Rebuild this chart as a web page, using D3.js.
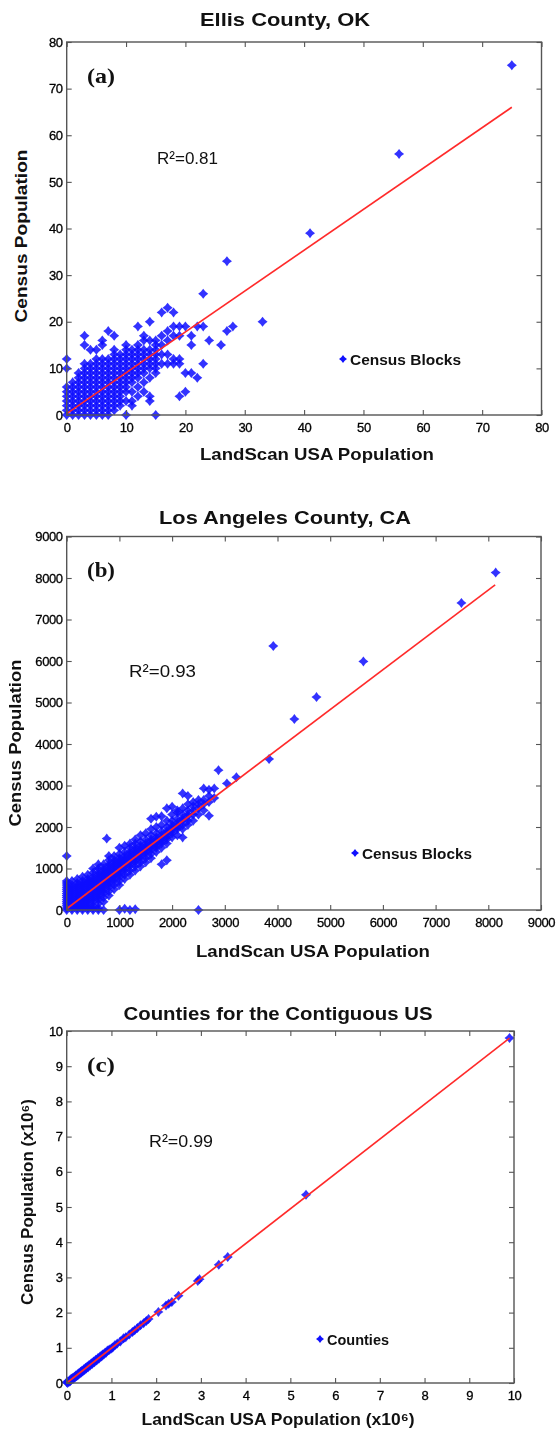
<!DOCTYPE html>
<html><head><meta charset="utf-8">
<script src="https://cdn.jsdelivr.net/npm/d3@7"></script>
<style>
html,body{margin:0;padding:0;background:#fff;}
svg{display:block;font-family:"Liberation Sans",Arial,sans-serif;}
</style></head>
<body>
<script>
// ---------- DATA ----------
// Panel (a): Ellis County, OK  -- [LandScan x, list of Census y]
const aColumns = [
 [0,[0,1,2,3,4,5,6,10,12]],
 [1,[0,1,2,3,4,5,6,7]],
 [2,[0,1,2,3,4,5,6,7,8,9]],
 [3,[0,1,2,3,4,5,6,7,8,9,10,11,15,17]],
 [4,[0,1,2,3,4,5,6,7,8,9,10,11,14]],
 [5,[0,1,2,3,4,5,6,7,8,9,10,11,12,14]],
 [6,[0,1,2,3,4,5,6,7,8,9,10,11,12,15,16]],
 [7,[0,1,2,3,4,5,6,7,8,9,10,11,12,18]],
 [8,[1,2,3,4,5,6,7,8,9,10,11,12,13,14,17]],
 [9,[2,3,4,5,6,7,8,9,10,11,12,13]],
 [10,[0,3,5,6,7,8,9,10,11,12,13,14,15]],
 [11,[2,3,5,7,8,9,10,11,12,13,14]],
 [12,[4,6,8,9,10,11,12,13,14,15,19]],
 [13,[5,7,9,10,11,12,13,14,16,17]],
 [14,[3,4,8,10,11,12,13,14,16,20]],
 [15,[0,9,10,11,12,13,14,15,16]],
 [16,[11,13,15,17,22]],
 [17,[11,13,16,18,23]],
 [18,[11,12,17,19,22]],
 [19,[4,11,12,17,19]],
 [20,[5,9,19]],
 [21,[9,15,17]],
 [22,[8,19]],
 [23,[11,19,26]],
 [24,[16]],
 [26,[15]],
 [27,[18,33]],
 [28,[19]],
 [33,[20]],
 [41,[39]],
 [56,[56]],
 [75,[75]]
];
const aFit = [[0,0.3],[75,66]];
const aTicks = [0,10,20,30,40,50,60,70,80];

// Panel (b): Los Angeles County, CA
const bColumns = [
 [0,[0,50,100,150,200,250,300,350,400,450,500,550,600,650,700,1300]],
 [100,[0,50,100,150,200,250,300,350,400,450,500,550,600,700]],
 [200,[0,50,100,150,200,250,300,350,400,450,500,550,600,650,750]],
 [300,[0,50,100,150,200,250,300,350,400,450,500,550,600,650,700,800]],
 [400,[0,50,100,150,200,250,300,350,400,450,500,550,600,650,700,750,850]],
 [500,[0,50,100,200,250,300,350,400,450,500,550,600,650,700,750,800,900,1000]],
 [600,[0,50,150,250,300,350,400,450,500,550,600,650,700,750,800,850,900,1000,1100]],
 [700,[0,200,300,400,450,500,550,600,650,700,750,800,850,900,950,1000,1100]],
 [760,[1720]],
 [800,[350,450,550,600,650,700,750,800,850,900,950,1000,1050,1100,1200,1300]],
 [900,[500,600,700,750,800,850,900,950,1000,1050,1100,1150,1200,1300]],
 [1000,[0,600,700,800,850,900,950,1000,1050,1100,1150,1200,1250,1350,1500]],
 [1100,[30,750,850,950,1000,1050,1100,1150,1200,1250,1300,1400,1550]],
 [1200,[0,850,950,1050,1100,1150,1200,1250,1300,1350,1400,1500,1600]],
 [1300,[20,950,1050,1150,1200,1250,1300,1350,1400,1450,1500,1600,1700]],
 [1400,[1050,1150,1250,1300,1350,1400,1450,1500,1550,1650,1800]],
 [1500,[1150,1250,1350,1400,1450,1500,1550,1600,1700,1850]],
 [1600,[1250,1350,1450,1500,1550,1600,1650,1700,1800,1950,2200]],
 [1700,[1400,1500,1550,1600,1650,1700,1750,1850,2000,2250]],
 [1800,[1100,1500,1600,1650,1700,1750,1800,1900,2050,2260]],
 [1900,[1200,1600,1700,1750,1800,1850,1900,2000,2150,2450]],
 [2000,[1750,1850,1900,1950,2000,2050,2150,2300,2490]],
 [2100,[1800,1950,2000,2050,2100,2200,2350,2400]],
 [2200,[1750,1950,2050,2150,2200,2300,2450,2810]],
 [2300,[2050,2150,2250,2300,2400,2550,2750]],
 [2400,[2150,2300,2400,2500,2600]],
 [2500,[0,2300,2450,2550,2650]],
 [2600,[2400,2550,2650,2930]],
 [2700,[2270,2600,2750,2900]],
 [2800,[2700,2930]],
 [2880,[3370]],
 [3040,[3050]],
 [3220,[3200]],
 [3840,[3640]],
 [3920,[6360]],
 [4320,[4600]],
 [4740,[5130]],
 [5630,[5990]],
 [7490,[7400]],
 [8140,[8130]]
];
const bFit = [[0,30],[8130,7835]];
const bTicks = [0,1000,2000,3000,4000,5000,6000,7000,8000,9000];

// Panel (c): Counties for the Contiguous US (millions)
const cX = [0.00,0.02,0.03,0.05,0.07,0.08,0.10,0.11,0.13,0.15,0.17,0.18,0.20,0.22,0.24,0.25,0.27,0.29,0.31,0.32,0.34,0.36,0.38,0.40,0.42,0.44,0.46,0.48,0.50,0.52,0.55,0.57,0.60,0.62,0.65,0.67,0.70,0.72,0.75,0.78,0.80,0.83,0.86,0.88,0.91,0.94,0.96,1.00,1.03,1.08,1.13,1.20,1.27,1.32,1.40,1.47,1.52,1.58,1.65,1.72,1.78,1.83,2.05,2.22,2.28,2.35,2.50,2.93,2.97,3.40,3.60,5.35,9.90];
const cY = [0.02,0.00,0.05,0.03,0.08,0.05,0.12,0.09,0.14,0.12,0.18,0.15,0.21,0.19,0.25,0.22,0.28,0.26,0.32,0.29,0.35,0.33,0.39,0.37,0.43,0.41,0.47,0.45,0.51,0.49,0.56,0.54,0.61,0.59,0.66,0.64,0.71,0.69,0.76,0.75,0.81,0.81,0.87,0.86,0.92,0.93,0.95,0.98,1.01,1.08,1.12,1.18,1.27,1.30,1.38,1.45,1.50,1.56,1.64,1.70,1.76,1.82,2.02,2.20,2.25,2.30,2.48,2.90,2.95,3.36,3.58,5.35,9.80];
const cFit = [[0,0],[9.9,9.8]];
const cTicks = [0,1,2,3,4,5,6,7,8,9,10];

// ---------- DRAW ----------
const W = 557, H = 1429;
const svg = d3.select("body").append("svg").attr("width", W).attr("height", H);
svg.append("rect").attr("width", W).attr("height", H).attr("fill", "#fff");
const defs = svg.append("defs");
defs.append("filter").attr("id","soft").attr("x","-10%").attr("y","-10%").attr("width","120%").attr("height","120%")
  .append("feGaussianBlur").attr("stdDeviation", 0.55);

function star(r, w) {
  return `M0,${-r}L${w},${-w}L${r},0L${w},${w}L0,${r}L${-w},${w}L${-r},0L${-w},${-w}Z`;
}
const BLUE = "#1010ff";

function panel(cfg) {
  const x = d3.scaleLinear().domain(cfg.dom).range([cfg.x0, cfg.x1]);
  const y = d3.scaleLinear().domain(cfg.dom).range([cfg.y0, cfg.y1]);
  const g = svg.append("g");

  // marks
  const mg = g.append("g").attr("filter", "url(#soft)");
  mg.selectAll("path.pt").data(cfg.points).join("path")
    .attr("class","pt")
    .attr("d", star(5, 2.2))
    .attr("transform", d => `translate(${x(d[0])},${y(d[1])})`)
    .attr("fill", BLUE).attr("fill-opacity", 0.85);
  mg.append("path").datum(cfg.fit)
    .attr("d", d3.line().x(d => x(d[0])).y(d => y(d[1])))
    .attr("stroke", "#ff2a2a").attr("stroke-width", 1.6).attr("fill", "none");

  // box and ticks
  const axCol = "#555";
  const fmt = cfg.fmt || (d => d);
  const ax = [
    [d3.axisBottom(x).tickValues(cfg.ticks).tickFormat(fmt), `translate(0,${cfg.y0})`, true],
    [d3.axisTop(x).tickValues(cfg.ticks).tickFormat(""), `translate(0,${cfg.y1})`, false],
    [d3.axisLeft(y).tickValues(cfg.ticks).tickFormat(fmt), `translate(${cfg.x0},0)`, true],
    [d3.axisRight(y).tickValues(cfg.ticks).tickFormat(""), `translate(${cfg.x1},0)`, false]
  ];
  ax.forEach(([a, tr, lab], i) => {
    a.tickSizeInner(-5).tickSizeOuter(0).tickPadding(i === 0 ? 8 : 4);
    const ag = g.append("g").attr("transform", tr).call(a);
    ag.select(".domain").remove();
    ag.selectAll(".tick line").attr("stroke", axCol).attr("stroke-width", 1.1);
    ag.selectAll(".tick text").attr("fill", "#000").attr("font-size", 13)
      .attr("stroke", "#000").attr("stroke-width", 0.3)
      .attr("font-family", "'Liberation Sans',Arial,sans-serif").attr("letter-spacing", -0.4);
  });
  g.append("rect").attr("x", cfg.x0).attr("y", cfg.y1)
    .attr("width", cfg.x1 - cfg.x0).attr("height", cfg.y0 - cfg.y1)
    .attr("fill", "none").attr("stroke", axCol).attr("stroke-width", 1.4);

  // texts
  g.append("text").attr("x", cfg.title[1]).attr("y", cfg.title[2])
    .attr("text-anchor", "middle").attr("font-weight", "bold").attr("font-size", 19)
    .attr("textLength", cfg.title[3]).attr("lengthAdjust", "spacingAndGlyphs")
    .attr("fill", "#111").text(cfg.title[0]);
  g.append("text").attr("x", cfg.xlab[1]).attr("y", cfg.xlab[2])
    .attr("text-anchor", "middle").attr("font-weight", "bold").attr("font-size", 17)
    .attr("textLength", cfg.xlab[3]).attr("lengthAdjust", "spacingAndGlyphs")
    .attr("fill", "#111").text(cfg.xlab[0]);
  g.append("text").attr("transform", `translate(${cfg.ylab[1]},${cfg.ylab[2]}) rotate(-90)`)
    .attr("text-anchor", "middle").attr("font-weight", "bold").attr("font-size", 17)
    .attr("textLength", cfg.ylab[3]).attr("lengthAdjust", "spacingAndGlyphs")
    .attr("fill", "#111").text(cfg.ylab[0]);
  g.append("text").attr("x", cfg.tag[1]).attr("y", cfg.tag[2])
    .attr("font-family", "'Liberation Serif','Times New Roman',serif").attr("font-weight", "bold")
    .attr("font-size", 22).attr("textLength", 28).attr("lengthAdjust", "spacingAndGlyphs")
    .attr("fill", "#111").text(cfg.tag[0]);
  g.append("text").attr("x", cfg.r2[1]).attr("y", cfg.r2[2])
    .attr("font-size", 17).attr("fill", "#111")
    .attr("textLength", cfg.r2[3]).attr("lengthAdjust", "spacingAndGlyphs").text(cfg.r2[0]);
  // legend
  g.append("path").attr("d", star(4, 1.7))
    .attr("transform", `translate(${cfg.leg[1]},${cfg.leg[2]})`).attr("fill", BLUE);
  g.append("text").attr("x", cfg.leg[1] + 7).attr("y", cfg.leg[2] + 5.5)
    .attr("font-weight", "bold").attr("font-size", 15).attr("fill", "#111")
    .attr("textLength", cfg.leg[3]).attr("lengthAdjust", "spacingAndGlyphs").text(cfg.leg[0]);
}

const aPoints = aColumns.flatMap(([xv, ys]) => ys.map(yv => [xv, yv]));
const bPoints = bColumns.flatMap(([xv, ys]) => ys.map(yv => [xv, yv]));
const cPoints = cX.map((v, i) => [v, cY[i]]);

panel({
  dom: [0, 80], x0: 66.7, x1: 541.5, y0: 415, y1: 42, ticks: aTicks,
  points: aPoints, fit: aFit,
  title: ["Ellis County, OK", 285, 26, 170],
  xlab: ["LandScan USA Population", 317, 460, 234],
  ylab: ["Census Population", 27, 236, 173],
  tag: ["(a)", 87, 83],
  r2: ["R\u00B2=0.81", 157, 164, 61],
  leg: ["Census Blocks", 343, 359, 111]
});
panel({
  dom: [0, 9000], x0: 66.7, x1: 541, y0: 910, y1: 536.5, ticks: bTicks,
  points: bPoints, fit: bFit,
  title: ["Los Angeles County, CA", 285, 524, 252],
  xlab: ["LandScan USA Population", 313, 957, 234],
  ylab: ["Census Population", 21, 743, 167],
  tag: ["(b)", 87, 577],
  r2: ["R\u00B2=0.93", 129, 677, 67],
  leg: ["Census Blocks", 355, 853, 110]
});
panel({
  dom: [0, 10], x0: 66.7, x1: 514, y0: 1383, y1: 1031, ticks: cTicks,
  points: cPoints, fit: cFit,
  title: ["Counties for the Contiguous US", 278, 1020, 309],
  xlab: ["LandScan USA Population (x10\u2076)", 278, 1425, 273],
  ylab: ["Census Population (x10\u2076)", 33, 1202, 206],
  tag: ["(c)", 87, 1072],
  r2: ["R\u00B2=0.99", 149, 1147, 64],
  leg: ["Counties", 320, 1339, 62]
});
</script>
</body></html>
